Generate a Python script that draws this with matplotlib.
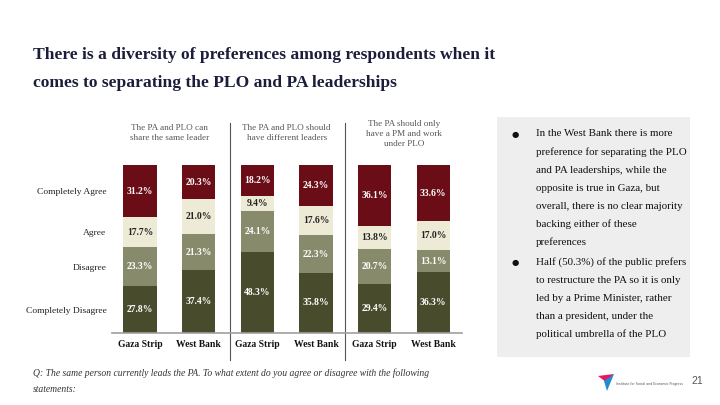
import matplotlib
matplotlib.use("Agg")
import matplotlib.pyplot as plt
import numpy as np
from matplotlib.patches import Rectangle, Polygon
from matplotlib.lines import Line2D

# ---------------- data ----------------
categories = ['Completely Disagree', 'Disagree', 'Agree', 'Completely Agree']
group_titles = ['The PA and PLO can\nshare the same leader',
                'The PA and PLO should\nhave different leaders',
                'The PA should only\nhave a PM and work\nunder PLO']
regions = ['Gaza Strip', 'West Bank', 'Gaza Strip', 'West Bank', 'Gaza Strip', 'West Bank']
completely_disagree = [27.8, 37.4, 48.3, 35.8, 29.4, 36.3]
disagree = [23.3, 21.3, 24.1, 22.3, 20.7, 13.1]
agree = [17.7, 21.0, 9.4, 17.6, 13.8, 17.0]
completely_agree = [31.2, 20.3, 18.2, 24.3, 36.1, 33.6]

title_lines = ['There is a diversity of preferences among respondents when it',
               'comes to separating the PLO and PA leaderships']
bullet1 = ['In the West Bank there is more',
           'preference for separating the PLO',
           'and PA leaderships, while the',
           'opposite is true in Gaza, but',
           'overall, there is no clear majority',
           'backing either of these',
           'preferences']
bullet2 = ['Half (50.3%) of the public prefers',
           'to restructure the PA so it is only',
           'led by a Prime Minister, rather',
           'than a president, under the',
           'political umbrella of the PLO']
footnote = ['Q: The same person currently leads the PA. To what extent do you agree or disagree with the following',
            'statements:']
page_number = '21'

colors = ['#484C2C', '#878B6C', '#EDEAD6', '#6A0D16']
label_colors = ['white', 'white', '#222222', 'white']

W, H = 720, 405
fig = plt.figure(figsize=(W / 100, H / 100), dpi=100)
fig.patch.set_facecolor('white')

def fx(px):
    return px / W

def fy(py):
    return 1 - py / H

SERIF = ['Liberation Serif', 'DejaVu Serif']

# ---------------- axes ----------------
ax_left, ax_right, ax_top, ax_bottom = 112, 462, 165, 333
ax = fig.add_axes([fx(ax_left), fy(ax_bottom), (ax_right - ax_left) / W, (ax_bottom - ax_top) / H])
ax.set_xlim(-0.48, 5.49)
ax.set_ylim(0, 100)
for s in ['top', 'right', 'left']:
    ax.spines[s].set_visible(False)
ax.spines['bottom'].set_color('#A0A0A0')
ax.spines['bottom'].set_linewidth(1.2)

x = np.arange(len(regions))
series = [completely_disagree, disagree, agree, completely_agree]
bottom = np.zeros(len(regions))
for vals, col, lc in zip(series, colors, label_colors):
    vals = np.array(vals)
    ax.bar(x, vals, width=0.57, bottom=bottom, color=col, edgecolor='none', zorder=2)
    for xi, b, v in zip(x, bottom, vals):
        ax.text(xi, b + v / 2, f'{v:.1f}%', ha='center', va='center', fontsize=6.9,
                fontweight='bold', color=lc, family=SERIF, zorder=3)
    bottom = bottom + vals

# y category labels at the middle of the first bar's segments
first = np.array([s[0] for s in series])
mids = np.cumsum(first) - first / 2
ax.set_yticks(mids)
ax.set_yticklabels(categories, family=SERIF, fontsize=6.8, color='#222222')
ax.tick_params(axis='y', length=0, pad=4)

ax.set_xticks(x)
ax.set_xticklabels(regions, family=SERIF, fontsize=6.9, fontweight='bold', color='#111111')
ax.tick_params(axis='x', length=0, pad=5)

# separators
for sx in [1.53, 3.5]:
    ax.add_line(Line2D([sx, sx], [125, -16], color='#555555', lw=0.8, clip_on=False, zorder=1))

# group titles
title_y = [(0.5, 133), (2.5, 133), (4.5, 134)]
for (gx, gy), t in zip(title_y, group_titles):
    px = ax.transData.transform((gx, 0))[0]
    fig.text(px / W, fy(gy), t, ha='center', va='center', fontsize=6.6, family=SERIF,
             color='#555555', linespacing=1.35)

# ---------------- title ----------------
for i, line in enumerate(title_lines):
    fig.text(fx(33), fy(55 + 28 * i), line, ha='left', va='center', fontsize=12.6,
             fontweight='bold', family=SERIF, color='#1C1D3A')

# ---------------- right panel ----------------
fig.add_artist(Rectangle((fx(497), fy(357)), (690 - 497) / W, (357 - 117) / H,
                         transform=fig.transFigure, facecolor='#EEEEEE', edgecolor='none', zorder=0))
y0 = 134
for i, line in enumerate(bullet1):
    fig.text(fx(536), fy(y0 + 18.1 * i), line, ha='left', va='center', fontsize=7.9,
             family=SERIF, color='#111111')
fig.text(fx(515), fy(y0), '●', ha='center', va='center', fontsize=6, color='#111111',
         family=['DejaVu Sans'])
y1 = 262
for i, line in enumerate(bullet2):
    fig.text(fx(536), fy(y1 + 18.1 * i), line, ha='left', va='center', fontsize=7.9,
             family=SERIF, color='#111111')
fig.text(fx(515), fy(y1), '●', ha='center', va='center', fontsize=6, color='#111111',
         family=['DejaVu Sans'])

# ---------------- footnote ----------------
for i, line in enumerate(footnote):
    fig.text(fx(33), fy(373 + 17 * i), line, ha='left', va='center', fontsize=6.9,
             style='italic', family=SERIF, color='#333333')

# ---------------- logo + page number ----------------
fig.add_artist(Polygon([[fx(598), fy(376)], [fx(614), fy(374)], [fx(606), fy(382)]],
                       closed=True, transform=fig.transFigure, facecolor='#E8175D', edgecolor='none'))
fig.add_artist(Polygon([[fx(604), fy(381)], [fx(614), fy(374)], [fx(607), fy(391)]],
                       closed=True, transform=fig.transFigure, facecolor='#1D8FCF', edgecolor='none'))
fig.text(fx(616), fy(384), 'Institute for Social and Economic Progress', ha='left', va='center',
         fontsize=2.3, color='#555555')
fig.text(fx(697), fy(381), page_number, ha='center', va='center', fontsize=7.5, color='#555555',
         family=['Liberation Sans', 'DejaVu Sans'])

fig.savefig('out.png', dpi=100)
